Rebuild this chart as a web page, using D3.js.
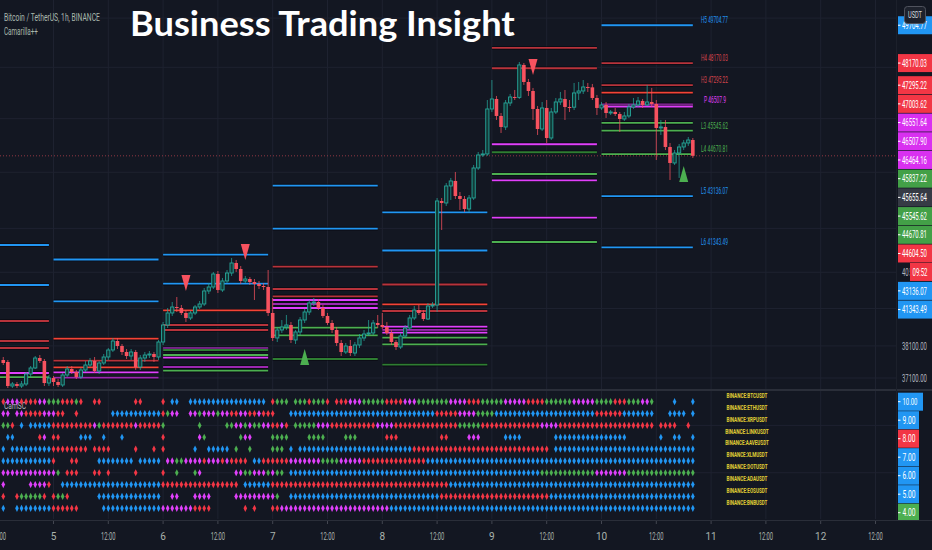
<!DOCTYPE html>
<html><head><meta charset="utf-8">
<script src="https://cdn.jsdelivr.net/npm/d3@7"></script>
<style>html,body{margin:0;padding:0;background:#131722;overflow:hidden}svg{display:block}</style>
</head><body>
<svg id="c" width="932" height="550"></svg>
<script>
// ---------------- DATA ----------------
const firstBarUTC = Date.UTC(2021, 7, 4, 13); // BTCUSDT 1h bars
// [open, high, low, close]
const ohlc = [
[37658,37752,37502,37564],[37596,37658,36794,36855],[36855,36977,36794,36916],[36916,36977,36794,36855],
[36855,37008,36794,36916],[36916,37285,36855,37223],[37223,37471,37131,37409],[37409,37783,37378,37720],
[37720,37814,37564,37627],[37627,37689,36855,36946],[36946,37192,36855,37100],
[37100,37161,36855,36977],[36977,37069,36825,36885],[36885,37254,36825,37192],[37192,37471,37131,37378],
[37378,37471,37223,37285],[37285,37347,37069,37131],[37131,37409,37069,37347],[37347,37627,37285,37502],
[37502,37720,37440,37627],[37627,37752,37254,37316],[37316,37627,37223,37564],[37564,37846,37502,37752],
[37752,38035,37658,37972],[37972,38352,37909,38256],[38256,38352,38003,38098],[38098,38161,37814,37909],
[37909,38003,37689,37783],[37783,38003,37658,37909],[37909,37972,37347,37440],[37440,37814,37347,37720],
[37720,37909,37596,37814],[37814,37940,37720,37846],[37846,37909,37596,37752],[37752,38288,37658,38224],
[38224,38864,38129,38767],[38767,39317,38671,39155],[39155,39513,39058,39350],[39350,39677,39187,39317],
[39317,39415,39090,39155],[39155,39252,38864,38993],[38993,39220,38928,39155],[39155,39415,39090,39350],
[39350,39546,39285,39448],[39448,39975,39382,39876],[39876,40141,39776,40008],[40008,40509,39942,40442],
[40442,40542,39809,39909],[39909,40308,39843,40208],[40208,40576,40141,40475],[40475,40982,40375,40812],
[40812,40914,40509,40610],[40610,40710,40108,40208],[40208,40375,40141,40274],[40274,40341,40074,40174],
[40174,40274,39579,40108],[40108,40208,39942,40041],[40041,40141,39909,40008],[40008,40576,39058,39155],
[39155,39645,38256,38352],[38352,38703,38224,38607],[38607,38928,38511,38703],[38703,39090,38607,38767],
[38767,38864,38192,38288],[38288,38607,38161,38543],[38543,39025,38447,38928],[38928,39285,38831,39187],
[39187,39579,39090,39481],[39481,39645,39382,39513],[39513,39612,39252,39317],[39317,39415,38993,39058],
[39058,39155,38767,38831],[38831,38928,38511,38607],[38607,38703,38098,38192],[38192,38288,37783,37909],
[37909,38192,37846,38098],[38098,38288,37783,37877],[37877,38224,37783,38129],[38129,38479,38035,38352],
[38352,38607,38256,38479],[38479,38928,38415,38511],[38511,38928,38447,38831],[38831,39090,38671,38767],
[38767,39155,38639,38703],[38703,38864,38447,38511],[38511,38607,38129,38224],[38224,38288,37972,38066],
[38066,38511,38003,38415],[38415,38767,38352,38671],[38671,39090,38607,38993],[38993,39382,38928,39252],
[39252,39415,39090,39155],[39155,39252,38896,38960],[38960,39481,38928,39382],[39382,39513,39317,39415],
[39415,43072,39187,42965],[42965,43072,41944,42894],[42894,43611,42788,43503],[43503,43793,43001,43684],
[43684,44011,43037,43143],[43143,43287,42646,43037],[43037,43143,42575,42681],[42681,43179,42575,43072],
[43072,44267,43001,44157],[44157,44747,44084,44636],[44636,44821,44562,44673],[44673,46718,44599,46371],
[46371,47499,46256,46757],[46757,46874,45950,46103],[46103,46217,45457,45684],[45684,46718,45570,46603],
[46603,46952,46487,46835],[46835,47107,46718,46820],[46820,48214,46757,48095],[48095,48174,47304,47421],
[47421,47539,46874,47068],[47068,47186,45950,46371],[46371,46487,45382,45608],[45608,46641,45532,46410],
[46410,46718,45082,45269],[45269,46410,45194,46256],[46256,46796,46179,46641],[46641,47029,46526,46757],
[46757,47107,45950,46448],[46448,46718,46256,46440],[46440,47382,46332,46991],[46991,47421,46718,47068],
[47068,47499,46952,47225],[47225,47382,47029,47210],[47210,47343,46718,46796],[46796,46913,46141,46410],
[46410,46641,46332,46526],[46526,46641,46026,46217],[46217,46332,46141,46256],[46256,46410,46103,46179],
[46179,46256,45495,45988],[45988,46256,45912,46103],[46103,46564,46026,46448],[46448,46796,46371,46526],
[46526,46835,46448,46680],[46680,46757,46410,46526],[46526,47304,46487,46641],[46641,47186,46448,46564],
[46564,46718,44451,45646],[45646,45950,45382,45684],[45684,45950,44821,44933],[44933,45082,43720,44341],
[44341,44821,44267,44710],[44710,45045,43793,44933],[44933,45194,44821,45082],[45082,45307,44971,45194],
[45194,45269,44525,44604.5]
];

// Camarilla++ daily levels [price, style]
const pivotDays = [4, 5, 6, 7, 8, 9, 10];
const piv4  = [[41426,'b'],[40074,'b'],[38896,'R'],[38256,'R'],[38035,'R'],[37254,'m'],[37130,'g']];
const piv5  = [[40931,'b'],[39536,'b'],[38329,'r'],[37636,'R'],[37431,'r'],[37276,'m'],[37109,'M']];
const piv6  = [[41094,'b'],[40118,'b'],[39242,'r'],[38767,'R'],[38607,'R'],[38025,'m'],[37972,'G'],[37814,'g'],[37730,'m'],[37440,'M'],[37328,'g']];
const piv7  = [[43514,'b'],[41990,'b'],[40687,'R'],[39942,'R'],[39700,'R'],[39579,'m'],[39448,'M'],[39317,'m'],[38680,'g'],[38437,'g'],[37689,'G']];
const piv8  = [[42564,'b'],[41237,'b'],[40091,'R'],[39438,'r'],[39220,'R'],[38713,'m'],[38607,'M'],[38521,'m'],[38362,'g'],[38151,'g'],[37511,'G']];
const piv9  = [[48777,'R'],[47963,'R'],[45034,'m'],[44736,'G'],[43938,'g'],[43709,'m'],[42374,'m'],[41529,'g']];
const piv10 = [[49704.77,'b'],[48170.03,'R'],[47295.22,'R'],[47003.62,'r'],[46551.64,'m'],[46507.9,'m'],[46464.16,'m'],[45837.22,'g'],[45545.62,'g'],[44670.81,'g'],[43136.07,'b'],[41343.49,'b']];
const pivotLabels = [["H5",49704.77,'b'],["H4",48170.03,'R'],["H3",47295.22,'R'],["P",46507.9,'m'],["L3",45545.62,'g'],["L4",44670.81,'g'],["L5",43136.07,'b'],["L6",41343.49,'b']];

// signal arrows [bar index, tip price]
const sellSignals = [[40,39876],[53,40914],[116,47697]];
const buySignals  = [[66,38003],[149,44230]];

// right axis
const priceTicks = [37100,38100,39300,40500,42000,44000,46000,48000,50000];
const axisBadges = [[49704.77,'#2196f3'],[48170.03,'#f23645'],[47295.22,'#f23645'],[47003.62,'#f23645'],
  [46551.64,'#d930f0'],[46507.90,'#d930f0'],[46464.16,'#d930f0'],[45837.22,'#43a047'],[45655.64,'#363a45'],
  [45545.62,'#43a047'],[44670.81,'#43a047'],[43136.07,'#2196f3'],[41343.49,'#2196f3']];
const lastPrice = 44604.50;
const countdown = "09:52";

// time axis
const timeTickLabels = ["12:00","5","12:00","6","12:00","7","12:00","8","12:00","9","12:00","10","12:00","11","12:00","12","12:00"];

// CamSC screener rows (one char per bar: r,m,g,b, '.' = none)
const screenerSymbols = ["BINANCE:BTCUSDT","BINANCE:ETHUSDT","BINANCE:XRPUSDT","BINANCE:LINKUSDT","BINANCE:AAVEUSDT",
  "BINANCE:XLMUSDT","BINANCE:DOTUSDT","BINANCE:ADAUSDT","BINANCE:EOSUSDT","BINANCE:BNBUSDT"];
const rowBTC  = "rmmmrrrrmmgggrrrgr..rr.......rr....r.bb..bbbbbbbbbbbbbbbbb.rggg.g" + "ggrgggr.rrrmmmgggggrrrrmmmgggggggmmmmrrrgggggmmmmmrrrrggggggmmmmmggggrrrgggmmg....b...b";
const rowETH  = "mm.mmrrrrmmmrr..r.......bbbbbbbbbbbrgmm..mmgmmmgmmrrmmrrmrrr...bb" + "bbbbbbbbbbbbbbbbbbbbbbbbbbbbbbrrrrrmmmmggggbbbbbbbbbbbbbbbbbbbbbbrrrrrrbbbbbbb...bbbb.b";
const rowXRP  = "ggr.b.bbbbbrrrrrrrrrmgrrrrrrrmrrrrrg.......g.....ggmmgmggmmrrmr.g" + "ggggmmmrrrrrrrrrrmmmmrrrrrrrrrrrrrrgggggrrrrrrrrrrrrrmmmmrrrrrrrrrrrrrrrrrrrrr.rrrr..r.r";
const rowLINK = ".bb.....rm.rr....bbb..b...b........r.......mg.......gmm....gggg.." + "..gggg....ggg......rrr.........rr....mmm.....bbbb.......bbbbbbbbbbbbbbbb.......b..bb..bb";
const rowAAVE = "b.bbbbbbbbbrrrrrrrr.rrrr.....r...r.r......b..bbbbb.g..g....ggg.b." + "bbbbbbbbbbbbbbbbbbbbbbbbbrrrrrrrrrrrrrrrrrrrrrrrrrrrrrr.bbbbbbbbbbbbbbbbbbbbbbbbbbbbbbb";
const rowXLM  = "bbbbbbbbbbbr...rr....bbbbbbbb.bbbbb.mmggmmmmrmmmrmrrrr.bbrrrrrrmm" + "mmmmmggggmmmmmrrrrrrrrrrrrrrbbbbbbbbbbbbbbbbbbbbbbbbbbbbbbbbbbbbbbbbbbbbbbbbbbbbbbbbbbb";
const rowDOT  = "mmmmmmmmmmmmg.rrr...rr.r.....r.....r..g...gm.......mmggmmmgmgg.bb" + "bbbbbbbbbbbbbbbbbbbbbbbbbbbbbbbbbbbbbbbbbbbbbbbbbbbbbggggggggggggmmmmmmmgggggggggggggggg";
const rowADA  = "m.....mmmmr..bbbbbbbbbbbbbbbbbbbbbbrrrrrrrrrrrrrrrrr.bbbbbbrrrrrr" + "rrrrrrrrrrrrrrrrrrrrrrrrrrrrrrrrrbbbbbbbbbbbbbbbbbbbbbbbbbbbbbbbbbbbbbbbbbbbbbbbbbbbbbb";
const rowEOS  = "r..rgggggr.rggr......bbbbbbbbbbbbbb..mm...mmmm.....mmmmmmmmmg..bb" + "bbbbbbbbbbbbbbbbbbbbbbbbbbbbbbbrrrrrrrrrrrrrrrrrrrrrrrrbbbbbbbbbbbbbbbbbbbbbbbbbbbbbbbb";
const rowBNB  = "b..bbbbbbbbrrrrrr.....bbbbbbbbbbbbbmmmmmmmrrrr.......r.r...rrmmmm" + "mmmmmmmmmmmmmmmmmmmmbbbbbbbbbbbbbbbbbbbbbbbbbbbbbbbbbbbbbbbbbbbbbbbbbbbbbbbbbbbbbbbbbbb";
const screenerRows = [rowBTC,rowETH,rowXRP,rowLINK,rowAAVE,rowXLM,rowDOT,rowADA,rowEOS,rowBNB];
const screenerValues = [10,9,8,7,6,5,4,3,2,1];

// ---------------- STYLE ----------------
const BG = '#131722', GRID = '#1e2230', AXIS_TXT = '#b2b5be';
const UP = '#26a69a', DOWN = '#f7525f';
const pivColor = {b:'#2196f3', B:'#1976d2', r:'#f44336', R:'#b7333b', m:'#e040fb', M:'#9c27b0', g:'#4caf50', G:'#2e7d32'};
const dotColor = {r:'#f23645', m:'#e040fb', g:'#4caf50', b:'#2196f3'};
const FONT = "Roboto, 'DejaVu Sans Condensed', sans-serif";
const PW = 896, MAIN_B = 389, LOW_T = 391, LOW_B = 519;
const HOUR = 3600e3;

// ---------------- SCALES ----------------
const x = d3.scaleUtc().domain([Date.UTC(2021,7,4,0), Date.UTC(2021,7,5,0)]).range([-56.1, 53.5]);
const y = d3.scaleLog().domain([37100, 50000]).range([378, 18.1]);
const yS = d3.scaleLinear().domain([1, 10]).range([508.3, 401.7]);
const barTime = i => new Date(firstBarUTC + i * HOUR);
const bx = i => x(barTime(i));

const svg = d3.select('#c');
svg.append('rect').attr('width', 932).attr('height', 550).attr('fill', BG);

// condensed text: measure natural width, then squeeze horizontally with a transform
function ctext(g, str, px, py, opts) {
  const t = g.append('text').attr('x', 0).attr('y', 0).text(str)
    .attr('font-family', opts.family || FONT).attr('font-size', opts.size || 10)
    .attr('fill', opts.fill || AXIS_TXT).attr('font-weight', opts.weight || 'normal')
    .attr('text-anchor', opts.anchor || 'start').attr('dominant-baseline', 'central');
  let s = 1;
  if (opts.len) {
    const w = t.node().getComputedTextLength();
    if (w > 0) s = opts.len / w;
  }
  t.attr('transform', `translate(${px},${py}) scale(${s},1)`);
  return t;
}

// ---------------- GRID ----------------
const tickDates = timeTickLabels.map((_, k) => new Date(Date.UTC(2021,7,4,12) + k * 12 * HOUR));
const grid = svg.append('g');
tickDates.forEach(d => {
  grid.append('line').attr('x1', x(d)).attr('x2', x(d)).attr('y1', 0).attr('y2', LOW_B)
    .attr('stroke', GRID).attr('stroke-width', 1);
});
priceTicks.forEach(p => {
  grid.append('line').attr('x1', 0).attr('x2', PW).attr('y1', y(p)).attr('y2', y(p))
    .attr('stroke', GRID).attr('stroke-width', 1);
});
[8, 4].forEach(v => {
  grid.append('line').attr('x1', 0).attr('x2', PW).attr('y1', yS(v)).attr('y2', yS(v))
    .attr('stroke', GRID).attr('stroke-width', 1);
});

// ---------------- MAIN PANE ----------------
svg.append('clipPath').attr('id', 'mainClip').append('rect').attr('x', 0).attr('y', 0).attr('width', PW).attr('height', MAIN_B);
const main = svg.append('g').attr('clip-path', 'url(#mainClip)');

// pivots
const allPivots = [piv4, piv5, piv6, piv7, piv8, piv9, piv10];
const lastIdx = ohlc.length - 1;
pivotDays.forEach((day, k) => {
  const dStart = new Date(Date.UTC(2021,7,day,0));
  const dEnd = new Date(Math.min(Date.UTC(2021,7,day,23), barTime(lastIdx).getTime()));
  const x1 = x(dStart), x2 = x(dEnd);
  allPivots[k].forEach(([p, s]) => {
    main.append('line').attr('x1', x1).attr('x2', x2).attr('y1', y(p)).attr('y2', y(p))
      .attr('stroke', '#05070c').attr('stroke-opacity', 0.7).attr('stroke-width', 3.6);
    main.append('line').attr('x1', x1).attr('x2', x2).attr('y1', y(p)).attr('y2', y(p))
      .attr('stroke', pivColor[s]).attr('stroke-width', 1.8);
  });
});

// last price line
main.append('line').attr('x1', 0).attr('x2', PW).attr('y1', y(lastPrice)).attr('y2', y(lastPrice))
  .attr('stroke', DOWN).attr('stroke-opacity', 0.55).attr('stroke-width', 1).attr('stroke-dasharray', '1 2');

// candles
const cg = main.append('g');
ohlc.forEach(([o, h, l, c], i) => {
  const cx = bx(i), up = c >= o;
  const col = up ? UP : DOWN;
  cg.append('line').attr('x1', cx).attr('x2', cx).attr('y1', y(h)).attr('y2', y(l))
    .attr('stroke', col).attr('stroke-width', 1).attr('stroke-opacity', 0.75);
  const top = y(Math.max(o, c)), bot = y(Math.min(o, c));
  const hgt = Math.max(1, bot - top);
  if (up) {
    cg.append('rect').attr('x', cx - 1.6).attr('y', top).attr('width', 3.2).attr('height', hgt)
      .attr('fill', '#123a38').attr('stroke', UP).attr('stroke-width', 0.9);
  } else {
    cg.append('rect').attr('x', cx - 1.8).attr('y', top).attr('width', 3.6).attr('height', hgt)
      .attr('fill', DOWN);
  }
});

// signals
sellSignals.forEach(([i, p]) => {
  const cx = bx(i), ty = y(p);
  main.append('path').attr('d', `M${cx-4.5},${ty-16}L${cx+4.5},${ty-16}L${cx},${ty}Z`).attr('fill', '#f7525f');
});
buySignals.forEach(([i, p]) => {
  const cx = bx(i), ty = y(p);
  main.append('path').attr('d', `M${cx-4.5},${ty+16}L${cx+4.5},${ty+16}L${cx},${ty}Z`).attr('fill', '#4caf50');
});

// pivot labels
pivotLabels.forEach(([name, p, s]) => {
  const str = name + ' ' + (name === 'P' ? String(p) : p.toFixed(2));
  ctext(main, str, name === 'P' ? 704 : 701, y(p) - 4.5, {size: 8.5, fill: pivColor[s] === '#b7333b' ? '#d9454d' : pivColor[s], len: str.length * 2.45});
});

// header texts
ctext(svg, 'Bitcoin / TetherUS, 1h, BINANCE', 4, 17, {size: 10, fill: '#a9b8ad', len: 96});
ctext(svg, 'Camarilla++', 4, 31, {size: 10, fill: '#a9b8ad', len: 34});
ctext(svg, 'Business Trading Insight', 130, 22, {family: "Lato, 'Open Sans', sans-serif", weight: 'bold', size: 34, fill: '#ffffff', len: 385});

// ---------------- LOWER PANE ----------------
const low = svg.append('g');
ctext(low, 'CamSC', 4, 406, {size: 9, fill: AXIS_TXT, len: 22});
screenerRows.forEach((row, r) => {
  const ry = yS(screenerValues[r]);
  row.split('').forEach((ch, i) => {
    if (ch === '.' || i > lastIdx) return;
    const cx = bx(i);
    low.append('path').attr('d', `M${cx},${ry-3.6}L${cx+1.8},${ry}L${cx},${ry+3.6}L${cx-1.8},${ry}Z`)
      .attr('fill', dotColor[ch]);
  });
  ctext(low, screenerSymbols[r], 747, ry - 6, {size: 7.5, fill: '#e0cf35', weight: 'bold', anchor: 'middle', len: screenerSymbols[r].length * 2.73});
});

// ---------------- SEPARATORS ----------------
svg.append('line').attr('x1', 0).attr('x2', 932).attr('y1', 390).attr('y2', 390).attr('stroke', '#2a2e39').attr('stroke-width', 2);
svg.append('line').attr('x1', PW + 0.5).attr('x2', PW + 0.5).attr('y1', 0).attr('y2', 550).attr('stroke', '#1c202b').attr('stroke-width', 1);

// ---------------- PRICE AXIS ----------------
const pax = svg.append('g');
const badges = axisBadges.map(([v, col]) => ({v, col, cur: false}))
  .concat([{v: lastPrice, col: '#f23645', cur: true}])
  .sort((a, b) => b.v - a.v);
let prevBottom = -Infinity;
badges.forEach(b => {
  const cy = Math.max(y(b.v), prevBottom + 9.35);
  b.cy = cy;
  prevBottom = cy + 9.35 + (b.cur ? 18.7 : 0);
});
// tick labels: skip those fully hidden under a badge, clip partially hidden ones
svg.append('clipPath').attr('id', 'tickClip').append('rect').attr('x', 898).attr('y', 0).attr('width', 11.5).attr('height', 550);
priceTicks.forEach(p => {
  const ty = y(p);
  const hidden = badges.some(b => Math.abs(b.cy - ty) < 9) || ty < 26;
  if (hidden) return;
  const underCountdown = badges.some(b => b.cur && Math.abs(b.cy + 18.5 - ty) < 9);
  if (underCountdown) {
    pax.append('g').attr('clip-path', 'url(#tickClip)').call(g => ctext(g, p.toFixed(2), 902, ty, {size: 10, fill: AXIS_TXT, len: 25}));
  } else {
    ctext(pax, p.toFixed(2), 902, ty, {size: 10, fill: AXIS_TXT, len: 25});
  }
});
badges.forEach(b => {
  pax.append('rect').attr('x', 898).attr('y', b.cy - 9).attr('width', 34).attr('height', 18).attr('fill', b.col);
  pax.append('line').attr('x1', 898).attr('x2', 900.5).attr('y1', b.cy).attr('y2', b.cy).attr('stroke', '#ffffff');
  ctext(pax, b.v.toFixed(2), 902, b.cy, {size: 10, fill: '#ffffff', len: 25});
  if (b.cur) {
    pax.append('rect').attr('x', 910).attr('y', b.cy + 9.5).attr('width', 22).attr('height', 18).attr('fill', b.col);
    ctext(pax, countdown, 912.5, b.cy + 18.5, {size: 10, fill: '#ffffff', len: 15});
  }
});
// USDT badge
pax.append('rect').attr('x', 904.5).attr('y', 6.5).attr('width', 21).attr('height', 17).attr('rx', 3)
  .attr('fill', '#1e222d').attr('stroke', '#50535e');
ctext(pax, 'USDT', 915, 15, {size: 9, fill: '#d1d4dc', anchor: 'middle', len: 14});

// lower pane axis badges (stacked)
svg.append('clipPath').attr('id', 'lowAxClip').append('rect').attr('x', 896).attr('y', LOW_T).attr('width', 36).attr('height', LOW_B - LOW_T + 1);
const lax = svg.append('g').attr('clip-path', 'url(#lowAxClip)');
let prevB = -Infinity;
screenerRows.forEach((row, r) => {
  const v = screenerValues[r];
  const cy = Math.max(yS(v), prevB + 9.25);
  prevB = cy + 9.25;
  if (cy > LOW_B - 3) return;
  const chars = row.slice(0, lastIdx + 1).replace(/\./g, '');
  const col = dotColor[chars[chars.length - 1]] || '#2196f3';
  lax.append('rect').attr('x', 898).attr('y', cy - 9).attr('width', v === 10 ? 25 : 21).attr('height', 18).attr('fill', col);
  lax.append('line').attr('x1', 898).attr('x2', 900.5).attr('y1', cy).attr('y2', cy).attr('stroke', '#ffffff');
  ctext(lax, v.toFixed(2), 902.5, cy, {size: 10, fill: '#ffffff', len: v === 10 ? 15 : 13});
});

// ---------------- TIME AXIS ----------------
svg.append('rect').attr('x', 0).attr('y', 520).attr('width', 932).attr('height', 30).attr('fill', BG);
svg.append('line').attr('x1', 0).attr('x2', 932).attr('y1', 520.5).attr('y2', 520.5).attr('stroke', '#2a2e39').attr('stroke-width', 1);
const tax = svg.append('g');
tickDates.forEach((d, k) => {
  const tx = x(d);
  tax.append('line').attr('x1', tx).attr('x2', tx).attr('y1', 521).attr('y2', 524).attr('stroke', '#434651');
  const lab = timeTickLabels[k];
  ctext(tax, lab, tx, 536, {size: 10, fill: '#a9b3ad', anchor: 'middle', len: lab.length > 2 ? 14.5 : null});
});
</script>
</body></html>
